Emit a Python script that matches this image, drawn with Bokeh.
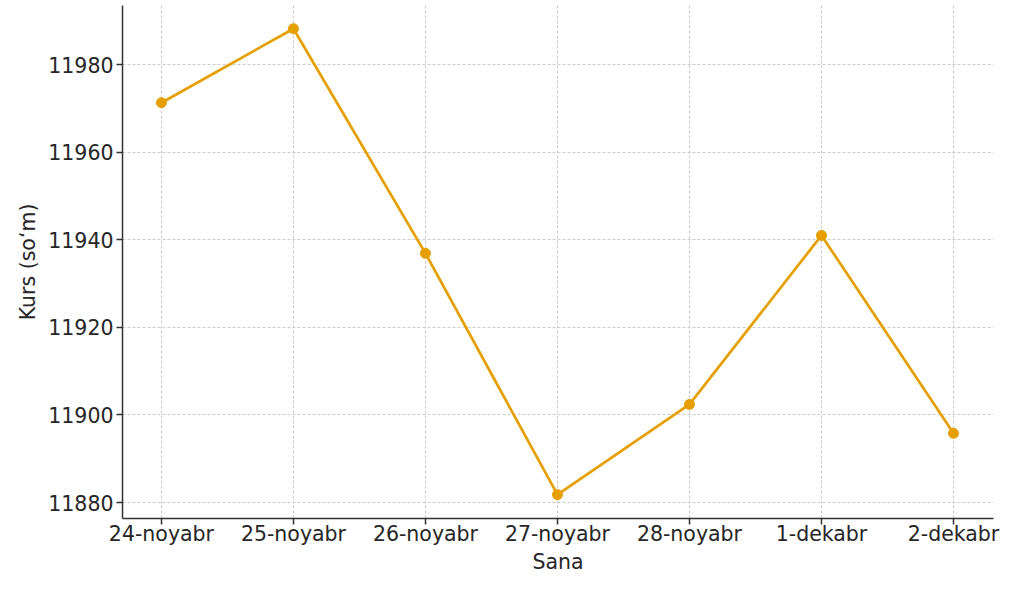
from bokeh.plotting import figure
from bokeh.models import FixedTicker, Range1d
from bokeh.embed import file_html
from bokeh.resources import INLINE

dates = ["24-noyabr", "25-noyabr", "26-noyabr", "27-noyabr", "28-noyabr", "1-dekabr", "2-dekabr"]
rates = [11971.3, 11988.2, 11936.9, 11881.8, 11902.4, 11941.0, 11895.8]
y_ticks = [11880, 11900, 11920, 11940, 11960, 11980]

xs = list(range(len(dates)))

p = figure(width=1016, height=585, output_backend="svg", toolbar_location=None,
           x_range=Range1d(-0.295, 6.303), y_range=Range1d(11876.35, 11993.5),
           min_border_left=122, min_border_right=23, min_border_top=5, min_border_bottom=67)
p.outline_line_color = None
p.background_fill_color = "white"

p.line(xs, rates, line_color="#E69F00", line_width=2.7)
p.scatter(xs, rates, size=10, fill_color="#E69F00", line_color="#E69F00")

font = "DejaVu Sans"
for ax in (p.xaxis[0], p.yaxis[0]):
    ax.axis_line_color = "#333333"
    ax.axis_line_width = 1.5
    ax.major_tick_line_color = "#333333"
    ax.major_tick_line_width = 1.5
    ax.major_tick_in = 0
    ax.major_tick_out = 6
    ax.minor_tick_line_color = None
    ax.major_label_text_font = font
    ax.major_label_text_font_size = "20.5px"
    ax.major_label_text_color = "#262626"
    ax.axis_label_text_font = font
    ax.axis_label_text_font_size = "20.5px"
    ax.axis_label_text_color = "#262626"
    ax.axis_label_text_font_style = "normal"

p.xaxis.ticker = FixedTicker(ticks=xs)
p.xaxis.major_label_overrides = {i: d for i, d in enumerate(dates)}
p.xaxis.major_label_standoff = -3
p.xaxis.axis_label = "Sana"
p.xaxis.axis_label_standoff = 1

p.yaxis.ticker = FixedTicker(ticks=y_ticks)
p.yaxis.major_label_standoff = 3
p.yaxis.axis_label = "Kurs (so\u2018m)"
p.yaxis.axis_label_standoff = 5

for g in (p.xgrid[0], p.ygrid[0]):
    g.grid_line_color = "#cccccc"
    g.grid_line_dash = "3 2"
    g.grid_line_width = 1
p.xgrid.ticker = FixedTicker(ticks=xs)
p.ygrid.ticker = FixedTicker(ticks=y_ticks)

open("out.html", "w").write(file_html(p, INLINE))
